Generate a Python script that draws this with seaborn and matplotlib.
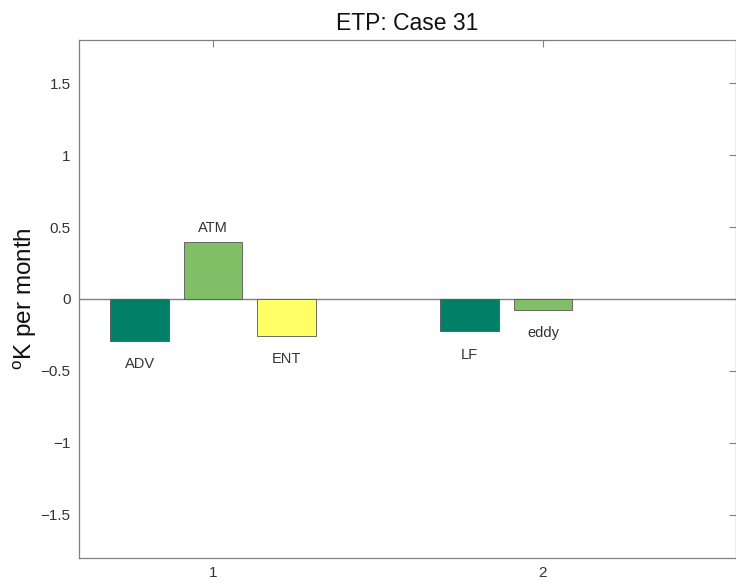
import seaborn as sns
import matplotlib.pyplot as plt
import pandas as pd

# bar data
groups = [1, 1, 1, 2, 2]
series = ["s1", "s2", "s3", "s1", "s2"]
values = [-0.29, 0.394, -0.255, -0.222, -0.075]
bar_labels = ["ADV", "ATM", "ENT", "LF", "eddy"]
series_order = ["s1", "s2", "s3"]
# MATLAB "summer" colormap for 3 series
colors = [(0.0, 0.5, 0.4), (0.5, 0.75, 0.4), (1.0, 1.0, 0.4)]

sns.set_style("white")
plt.rcParams["font.family"] = ["Liberation Sans", "DejaVu Sans"]

df = pd.DataFrame({"group": groups, "series": series, "value": values, "label": bar_labels})

fig = plt.figure(figsize=(7.36, 5.83), dpi=100)
ax = fig.add_axes([79 / 736, 25 / 583, 1 - 79 / 736, 518 / 583])

sns.barplot(data=df, x="group", y="value", hue="series", hue_order=series_order,
            palette=colors, saturation=1, native_scale=True, width=0.667, gap=0.2,
            edgecolor="#555555", linewidth=0.6, legend=False, ax=ax)

ax.axhline(0, color="#808080", lw=1.0, zorder=0.5)

# text labels next to each bar end
for cont, s in zip(ax.containers, series_order):
    sub = df[df.series == s].sort_values("group")
    for bar, (_, row) in zip(cont, sub.iterrows()):
        xc = bar.get_x() + bar.get_width() / 2
        off = 10 if row.value > 0 else -17
        ax.annotate(row.label, (xc, row.value), xytext=(0, off), textcoords="offset points",
                    ha="center", va="center", fontsize=10.5, color="#333333")

ax.set_xlim(0.594, 2.585)
ax.set_ylim(-1.8, 1.8)
ax.set_xticks([1, 2])
ax.set_xticklabels(["1", "2"])
ax.set_yticks([-1.5, -1, -0.5, 0, 0.5, 1, 1.5])
ax.set_yticklabels(["\u22121.5", "\u22121", "\u22120.5", "0", "0.5", "1", "1.5"])
ax.tick_params(direction="in", length=5, width=0.8, colors="#808080", labelcolor="#333333",
               labelsize=11, top=True, right=True, pad=6)
for sp in ax.spines.values():
    sp.set_color("#808080")
    sp.set_linewidth(0.9)

ax.set_xlabel("")
ax.set_ylabel("$\\mathregular{^{o}}$K per month", fontsize=17.5, color="#111111", labelpad=1)
ax.set_title("ETP: Case 31", fontsize=16.5, color="#111111", pad=7)

fig.savefig("out.png", dpi=100)
